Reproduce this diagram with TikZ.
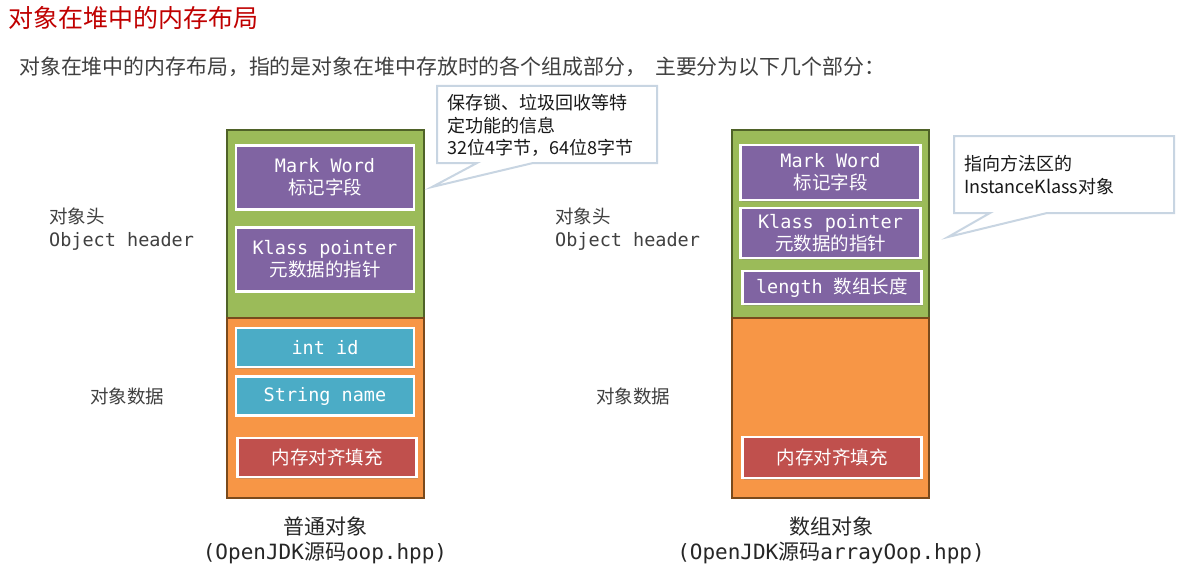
\documentclass[tikz,border=0pt]{standalone}
\usepackage{fontspec}
\setmainfont{Noto Sans CJK SC}
\setmonofont{DejaVu Sans Mono}
\newfontfamily\cjk{Noto Sans CJK SC}
\usetikzlibrary{shadows}

\definecolor{hdgreen}{HTML}{9BBB59}
\definecolor{hdgreenline}{HTML}{4F6228}
\definecolor{dtorange}{HTML}{F79646}
\definecolor{dtorangeline}{HTML}{7A4A1C}
\definecolor{fpurple}{HTML}{8064A2}
\definecolor{fblue}{HTML}{4BACC6}
\definecolor{fred}{HTML}{C0504D}
\definecolor{titlered}{HTML}{C00000}
\definecolor{txtgray}{HTML}{404040}
\definecolor{calloutline}{HTML}{C8D5E2}

\tikzset{
  field/.style={draw=white, line width=2.5pt, text=white, inner sep=0pt, align=center,
    drop shadow={opacity=0.35, shadow xshift=1pt, shadow yshift=-1.5pt},
    font=\fontsize{18.5}{22}\selectfont\ttfamily},
  markfield/.style={field, fill=fpurple},
  datafield/.style={field, fill=fblue},
  padfield/.style={field, fill=fred},
  sidelabel/.style={text=txtgray, align=left, inner sep=0pt, font=\fontsize{18.5}{23}\selectfont},
  captext/.style={text=black!85, align=center, inner sep=0pt, font=\fontsize{21}{25}\selectfont},
  notebox/.style={fill=white, draw=calloutline, line width=2pt, line join=miter},
  notetext/.style={text=black!90, align=left, inner sep=0pt, font=\fontsize{18}{22.5}\selectfont}
}

\begin{document}
\begin{tikzpicture}[x=1pt, y=-1pt]
  \useasboundingbox (0,0) rectangle (1195,578);
  \fill[white] (0,0) rectangle (1195,578);

  % Title and intro line
  \node[anchor=west, inner sep=0pt, text=titlered, font=\fontsize{25}{30}\selectfont] (title) at (8,18) {对象在堆中的内存布局};
  \node[anchor=west, inner sep=0pt, text=txtgray, font=\fontsize{20.9}{25}\selectfont] (intro) at (19,67)
    {对象在堆中的内存布局，指的是对象在堆中存放时的各个组成部分，\hspace{9pt}主要分为以下几个部分：};

  % Plain object: outer frame
  \coordinate (LA) at (227,130);
  \coordinate (LB) at (424,318);
  \coordinate (LC) at (227,318);
  \coordinate (LD) at (424,498);
  \draw[fill=hdgreen, draw=hdgreenline, line width=2pt] (LA) rectangle (LB);
  \draw[fill=dtorange, draw=dtorangeline, line width=2pt] (LC) rectangle (LD);

  % Plain object: fields
  \node[markfield, minimum width=178pt, minimum height=64pt] (lmark) at (325,177.5) {Mark Word\\{\cjk 标记字段}};
  \node[markfield, minimum width=178pt, minimum height=64pt] (lklass) at (325,259.5) {Klass pointer\\{\cjk 元数据的指针}};
  \node[datafield, minimum width=178pt, minimum height=39pt] (lid) at (325,347.5) {int id};
  \node[datafield, minimum width=178pt, minimum height=39pt] (lname) at (325,396) {String name};
  \node[padfield, minimum width=179pt, minimum height=39pt, font=\fontsize{18.5}{22}\selectfont\cjk] (lpad) at (327,457.5) {内存对齐填充};

  % Plain object: side labels and caption
  \node[sidelabel, anchor=west] (lhead) at (49,229.5) {对象头\\{\ttfamily Object header}};
  \node[sidelabel] (ldata) at (127,396) {对象数据};
  \node[captext] (lcap) at (325,540.5) {普通对象\\{\ttfamily (OpenJDK{\cjk 源码}oop.hpp)}};

  % Array object: outer frame
  \coordinate (RA) at (732,130);
  \coordinate (RB) at (929,318);
  \coordinate (RC) at (732,318);
  \coordinate (RD) at (929,498);
  \draw[fill=hdgreen, draw=hdgreenline, line width=2pt] (RA) rectangle (RB);
  \draw[fill=dtorange, draw=dtorangeline, line width=2pt] (RC) rectangle (RD);

  % Array object: fields
  \node[markfield, minimum width=180pt, minimum height=55pt] (rmark) at (830.5,172.5) {Mark Word\\{\cjk 标记字段}};
  \node[markfield, minimum width=180pt, minimum height=50pt] (rklass) at (830.5,233) {Klass pointer\\{\cjk 元数据的指针}};
  \node[markfield, minimum width=179pt, minimum height=33pt] (rlen) at (832,287.5) {length {\cjk 数组长度}};
  \node[padfield, minimum width=179pt, minimum height=41pt, font=\fontsize{18.5}{22}\selectfont\cjk] (rpad) at (832,457.5) {内存对齐填充};

  % Array object: side labels and caption
  \node[sidelabel, anchor=west] (rhead) at (555,229.5) {对象头\\{\ttfamily Object header}};
  \node[sidelabel] (rdata) at (633,396) {对象数据};
  \node[captext] (rcap) at (831,540.5) {数组对象\\{\ttfamily (OpenJDK{\cjk 源码}arrayOop.hpp)}};

  % Callout for Mark Word
  \draw[notebox] (437,86) -- (657,86) -- (657,163) -- (533,163) -- (432,187) -- (477,163) -- (437,163) -- cycle;
  \node[notetext, anchor=west] (mnote) at (447,125.5) {保存锁、垃圾回收等特\\定功能的信息\\32位4字节，64位8字节};

  % Callout for Klass pointer
  \draw[notebox] (954,136) -- (1174,136) -- (1174,213) -- (1047,213) -- (948,237) -- (990,213) -- (954,213) -- cycle;
  \node[notetext, anchor=west] (knote) at (964,175) {指向方法区的\\InstanceKlass对象};
\end{tikzpicture}
\end{document}
